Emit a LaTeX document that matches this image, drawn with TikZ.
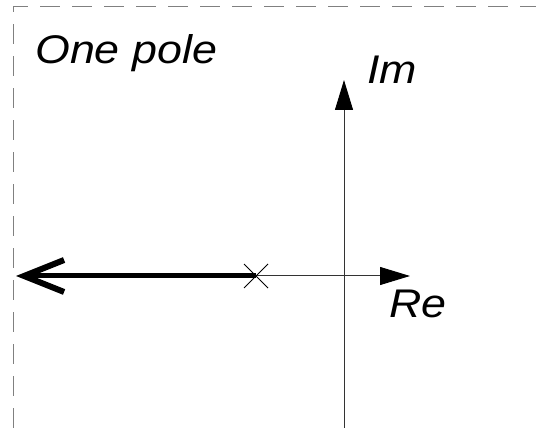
\documentclass[tikz,border=0pt]{standalone}
\usepackage{fontspec}
\setmainfont{Liberation Sans}
\newfontfamily\labfont[FakeStretch=1.12]{Liberation Sans}
\usetikzlibrary{arrows.meta,calc}
\begin{document}
\begin{tikzpicture}[x=1pt,y=-1pt,
  lab/.style={font=\labfont\itshape\fontsize{40}{46}\selectfont, inner sep=0pt, anchor=base west},
  axis/.style={line width=1pt, draw=black!80, -{Triangle[length=30pt,width=18pt,fill=black,color=black]}},
  frame/.style={draw=black!50, line width=1pt, dash pattern=on 20pt off 12pt}]
\useasboundingbox (0,0) rectangle (536,438);
\draw[frame] (13,460) -- (13,7) -- (560,7);
\coordinate (o) at (344,276);
\coordinate (pole) at (256,276);
\coordinate (xend) at (410,276);
\coordinate (yend) at (344,80);
\coordinate (ybot) at (344,428);
\coordinate (left) at (16,276);
\draw[axis] (pole) -- (xend);
\draw[axis] (ybot) -- (yend);
\draw[line width=5pt, -{Straight Barb[length=40pt,width=32pt,line width=6pt]}] (pole) -- (left);
\draw[line width=0.9pt] ($(pole)+(-12,-12)$) -- ($(pole)+(12,12)$);
\draw[line width=0.9pt] ($(pole)+(-12,12)$) -- ($(pole)+(12,-12)$);
\node[lab] (t) at (35,64) {One pole};
\node[lab] (im) at (367,84) {Im};
\node[lab] (re) at (389,318) {Re};
\end{tikzpicture}
\end{document}
